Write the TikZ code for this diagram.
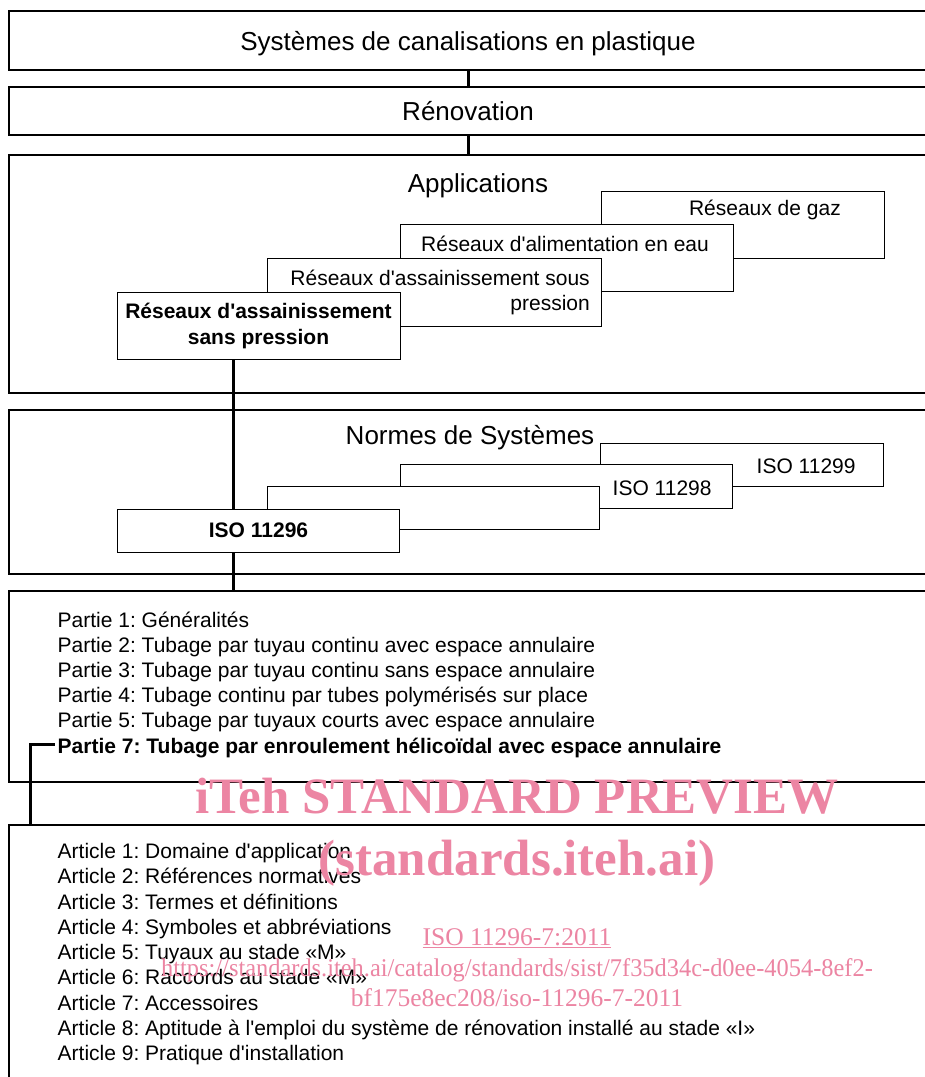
\documentclass[tikz,border=0pt]{standalone}
\usepackage{fontspec}
\setmainfont{Liberation Sans}
\newfontfamily\wmfont{Liberation Serif}
\usetikzlibrary{fit}
\definecolor{wmpink}{RGB}{236,133,163}
\newcommand{\ap}{\textquotesingle}
\frenchspacing
\begin{document}
\begin{tikzpicture}[x=1pt,y=-1pt,
  bigbox/.style={draw, line width=2pt, inner sep=0pt, fill=white},
  subbox/.style={draw, line width=1pt, inner sep=0pt, fill=white},
  connline/.style={draw, line width=3pt},
  head/.style={font=\fontsize{26}{30}\selectfont, inner sep=0pt, anchor=base},
  body/.style={font=\fontsize{21}{25}\selectfont, inner sep=0pt, anchor=base west},
  bodyc/.style={font=\fontsize{21}{25}\selectfont, inner sep=0pt, anchor=base},
  bodyr/.style={font=\fontsize{21}{25}\selectfont, inner sep=0pt, anchor=base east},
  wmbig/.style={font=\wmfont\bfseries\fontsize{51}{60}\selectfont, text=wmpink, inner sep=0pt, anchor=base},
  wmsmall/.style={font=\wmfont\fontsize{25.5}{30}\selectfont, text=wmpink, inner sep=0pt, anchor=base}
]
\clip (0,0) rectangle (925,1077);
\useasboundingbox (0,0) rectangle (925,1077);

% helper coordinates
\coordinate (cx) at (468,0);
\coordinate (ca) at (233,0);
\coordinate (ck) at (30.7,0);

% big boxes
\node[bigbox, fit={(9,11) (935,70)}] (b1) {};
\node[bigbox, fit={(9,87) (935,135)}] (b2) {};
\node[bigbox, fit={(9,155) (935,393)}] (b3) {};
\node[bigbox, fit={(9,410) (935,573.5)}] (b4) {};
\node[bigbox, fit={(9,590.5) (935,782)}] (b5) {};
\node[bigbox, fit={(9,824.5) (935,1100)}] (b6) {};

% headings
\node[head] (t1) at (468,50) {Systèmes de canalisations en plastique};
\node[head] (t2) at (468,120) {Rénovation};
\node[head] (t3) at (478,192) {Applications};
\node[head] (t4) at (470,444) {Normes de Systèmes};

% application boxes (back to front)
\node[subbox, fit={(601,191) (884,258.3)}] (gaz) {};
\node[bodyr] (gazt) at (841,215) {Réseaux de gaz};
\node[subbox, fit={(400,224.3) (733,291.7)}] (eau) {};
\node[body] (eaut) at (421,251) {Réseaux d\ap alimentation en eau};
\node[subbox, fit={(267.7,258.5) (601,326)}] (sous) {};
\node[bodyr] (soust1) at (590,285) {Réseaux d\ap assainissement sous};
\node[bodyr] (soust2) at (590,310) {pression};
\node[subbox, fit={(117.7,292.3) (400,359.3)}] (sans) {};
\node[bodyc] (sanst1) at (258.5,318.5) {\bfseries Réseaux d\ap assainissement};
\node[bodyc] (sanst2) at (258.5,344) {\bfseries sans pression};

% system standard boxes (back to front)
\node[subbox, fit={(600.7,443.3) (883,486)}] (i99) {};
\node[body] (i99t) at (756.5,473) {ISO 11299};
\node[subbox, fit={(400,464.5) (732,508.3)}] (i98) {};
\node[body] (i98t) at (612.5,495) {ISO 11298};
\node[subbox, fit={(267.7,486.7) (599.5,529.5)}] (i97) {};
\node[subbox, fit={(117.7,509) (399.5,552)}] (i96) {};
\node[bodyc] (i96t) at (258.5,537.5) {\bfseries ISO 11296};

% parts
\node[body] (p1) at (57.5,627) {Partie 1: Généralités};
\node[body] (p2) at (57.5,652.2) {Partie 2: Tubage par tuyau continu avec espace annulaire};
\node[body] (p3) at (57.5,677.4) {Partie 3: Tubage par tuyau continu sans espace annulaire};
\node[body] (p4) at (57.5,702.6) {Partie 4: Tubage continu par tubes polymérisés sur place};
\node[body] (p5) at (57.5,727.8) {Partie 5: Tubage par tuyaux courts avec espace annulaire};
\node[body] (p7) at (57.5,753) {\bfseries Partie 7: Tubage par enroulement hélicoïdal avec espace annulaire};

% articles
\node[body] (a1) at (57.5,858.5) {Article 1: Domaine d\ap application};
\node[body] (a2) at (57.5,883.75) {Article 2: Références normatives};
\node[body] (a3) at (57.5,909) {Article 3: Termes et définitions};
\node[body] (a4) at (57.5,934.25) {Article 4: Symboles et abbréviations};
\node[body] (a5) at (57.5,959.5) {Article 5: Tuyaux au stade «M»};
\node[body] (a6) at (57.5,984.75) {Article 6: Raccords au stade «M»};
\node[body] (a7) at (57.5,1010) {Article 7: Accessoires};
\node[body] (a8) at (57.5,1035.25) {Article 8: Aptitude à l\ap emploi du système de rénovation installé au stade «I»};
\node[body] (a9) at (57.5,1060.5) {Article 9: Pratique d\ap installation};

% connectors
\path[connline] (b1.south -| cx) -- (b2.north -| cx);
\path[connline] (b2.south -| cx) -- (b3.north -| cx);
\path[connline] (sans.south -| ca) -- (i96.north -| ca);
\path[connline] (i96.south -| ca) -- (b5.north -| ca);
\path[connline] ([shift={(-3,-3)}]p7.west) -| (b6.north -| ck);

% watermark
\node[wmbig] (w1) at (517,813) {iTeh STANDARD PREVIEW};
\node[wmbig] (w2) at (517,875) {(standards.iteh.ai)};
\node[wmsmall] (w3) at (517,945) {\underline{ISO 11296-7:2011}};
\node[wmsmall, xscale=0.957] (w4) at (517,976) {https://standards.iteh.ai/catalog/standards/sist/7f35d34c-d0ee-4054-8ef2-};
\node[wmsmall] (w5) at (517,1006) {bf175e8ec208/iso-11296-7-2011};
\end{tikzpicture}
\end{document}
